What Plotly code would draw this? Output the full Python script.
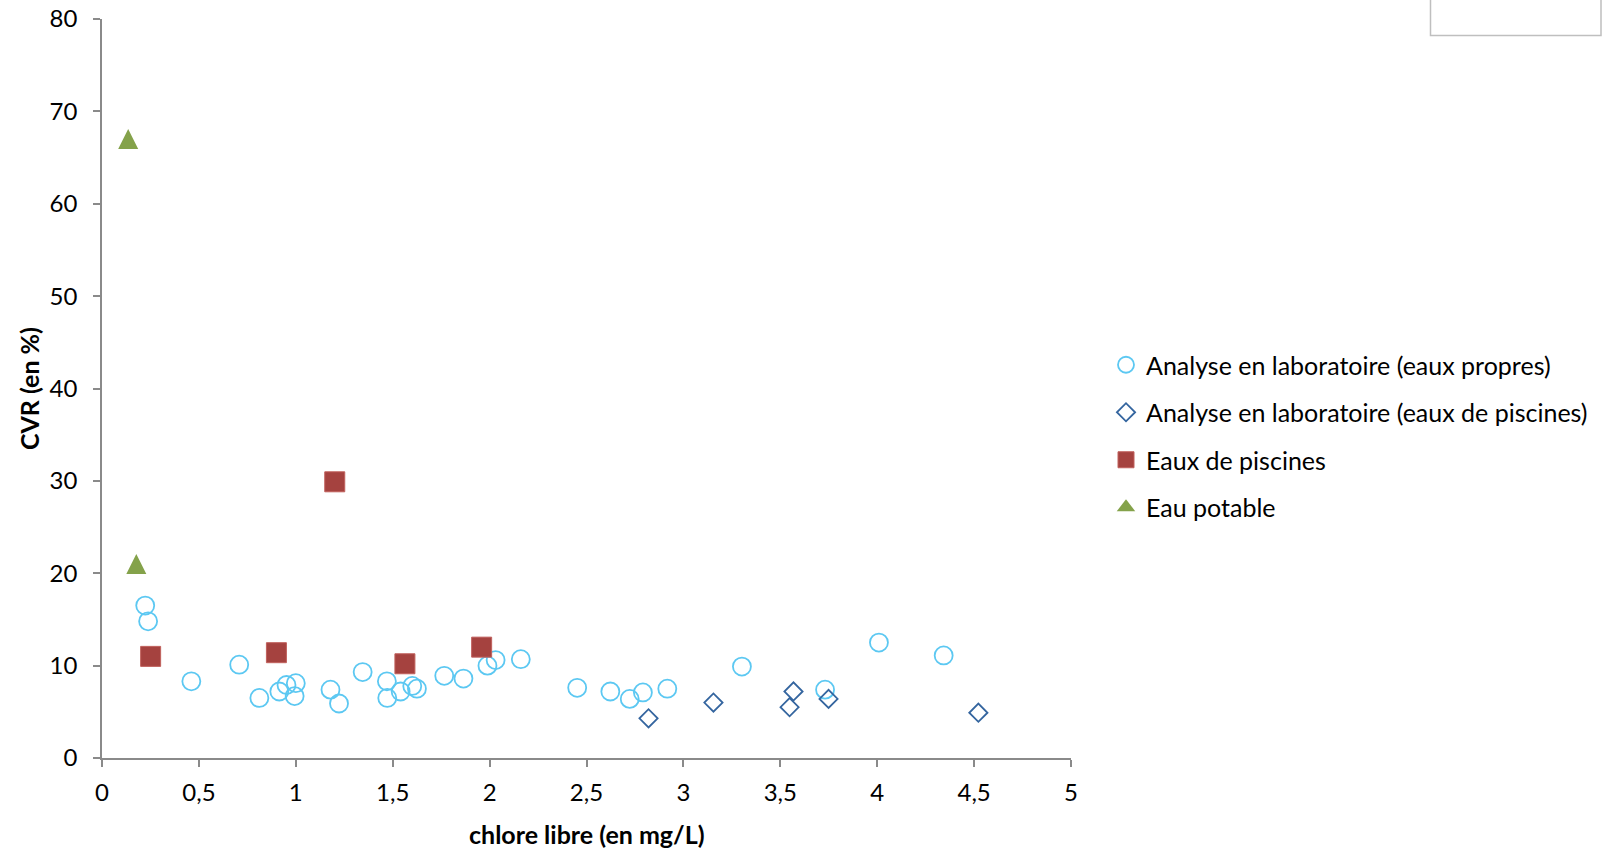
import plotly.graph_objects as go

# ---- data ----
propres_x = [0.223, 0.238, 0.461, 0.708, 0.812, 0.915, 0.952, 1.0, 0.994, 1.179, 1.223,
             1.345, 1.470, 1.472, 1.541, 1.601, 1.625, 1.766, 1.865, 1.989, 2.031, 2.161,
             2.452, 2.623, 2.723, 2.791, 2.917, 3.302, 3.731, 4.009, 4.343]
propres_y = [16.5, 14.8, 8.3, 10.1, 6.5, 7.2, 7.9, 8.1, 6.7, 7.4, 5.9,
             9.3, 8.3, 6.5, 7.2, 7.8, 7.5, 8.9, 8.6, 10.0, 10.6, 10.7,
             7.6, 7.2, 6.4, 7.1, 7.5, 9.9, 7.4, 12.5, 11.1]

labpisc_x = [2.820, 3.155, 3.568, 3.548, 3.749, 4.522]
labpisc_y = [4.3, 6.0, 7.2, 5.5, 6.4, 4.9]

piscines_x = [0.251, 0.900, 1.201, 1.563, 1.959]
piscines_y = [11.0, 11.4, 29.9, 10.2, 12.0]

potable_x = [0.135, 0.177]
potable_y = [67.0, 21.0]

series_names = ["Analyse en laboratoire (eaux propres)",
                "Analyse en laboratoire (eaux de piscines)",
                "Eaux de piscines",
                "Eau potable"]

x_ticks = [0, 0.5, 1, 1.5, 2, 2.5, 3, 3.5, 4, 4.5, 5]
y_ticks = [0, 10, 20, 30, 40, 50, 60, 70, 80]

FONT = "Lato"
W, H = 1602, 849
L, R, T, B = 102, 531, 19, 91
pw, ph = W - L - R, H - T - B
Y_MAX = 80
TRI_SIZE = 20  # arrow-up marker: tip at the data point, so centre it with a hidden twin axis

def px_x(p):
    return (p - L) / pw

def px_y(p):
    return (H - B - p) / ph

tri_shift = (TRI_SIZE / 2) * Y_MAX / ph  # half marker height expressed in axis units

fig = go.Figure()
fig.add_trace(go.Scatter(x=propres_x, y=propres_y, mode="markers", name=series_names[0],
                         legendgroup="a",
                         marker=dict(symbol="circle-open", size=18, color="#5CC8F2",
                                     line=dict(width=1.8, color="#5CC8F2"))))
fig.add_trace(go.Scatter(x=labpisc_x, y=labpisc_y, mode="markers", name=series_names[1],
                         legendgroup="b",
                         marker=dict(symbol="diamond-open", size=14, color="#34659F",
                                     line=dict(width=1.8, color="#34659F"))))
fig.add_trace(go.Scatter(x=piscines_x, y=piscines_y, mode="markers", name=series_names[2],
                         legendgroup="c",
                         marker=dict(symbol="square", size=20, color="#A5423F",
                                     line=dict(width=1, color="#C0605C"))))
fig.add_trace(go.Scatter(x=potable_x, y=potable_y, mode="markers", name=series_names[3],
                         legendgroup="d", yaxis="y2", showlegend=False,
                         marker=dict(symbol="arrow-up", size=TRI_SIZE, color="#84A24A",
                                     line=dict(width=0, color="#84A24A"))))
# legend entry for the triangle series (centred symbol)
fig.add_trace(go.Scatter(x=[None], y=[None], mode="markers", name=series_names[3],
                         legendgroup="d", showlegend=True,
                         marker=dict(symbol="triangle-up", size=16, color="#84A24A",
                                     line=dict(width=0, color="#84A24A"))))

axis_common = dict(showgrid=False, zeroline=False, showline=True, linecolor="#8A8A8A",
                   linewidth=1.5, ticks="outside", tickcolor="#8A8A8A", tickwidth=1.5,
                   ticklen=7, tickfont=dict(family=FONT, size=24, color="#000000"))

fig.update_xaxes(range=[0, 5], tickvals=x_ticks, ticklabelstandoff=5, **axis_common)
fig.update_yaxes(range=[0, Y_MAX], tickvals=y_ticks, ticklabelstandoff=11, **axis_common)

fig.update_layout(
    width=W, height=H,
    margin=dict(l=L, r=R, t=T, b=B, autoexpand=False),
    paper_bgcolor="white", plot_bgcolor="white",
    separators=", ",
    font=dict(family=FONT, color="#000000"),
    showlegend=True,
    yaxis2=dict(overlaying="y", range=[-tri_shift, Y_MAX - tri_shift], visible=False,
                showgrid=False, zeroline=False),
    legend=dict(x=px_x(1106), y=px_y(342), xanchor="left", yanchor="top",
                font=dict(family=FONT, size=25, color="#000000"),
                tracegroupgap=12, itemsizing="trace", bgcolor="rgba(0,0,0,0)"),
    annotations=[
        dict(text="<b>chlore libre (en mg/L)</b>", xref="paper", yref="paper",
             x=0.5, y=px_y(834), xanchor="center", yanchor="middle", showarrow=False,
             font=dict(family=FONT, size=25, color="#000000")),
        dict(text="<b>CVR (en %)</b>", xref="paper", yref="paper",
             x=px_x(28.6), y=0.5, xanchor="center", yanchor="middle", showarrow=False,
             textangle=-90, font=dict(family=FONT, size=25, color="#000000")),
    ],
    shapes=[dict(type="rect", xref="paper", yref="paper",
                 x0=px_x(1430.5), x1=px_x(1601), y0=px_y(35.5), y1=px_y(-5),
                 line=dict(color="#BFBFBF", width=1.5), fillcolor="rgba(0,0,0,0)")],
)

fig.write_html("out.html")
